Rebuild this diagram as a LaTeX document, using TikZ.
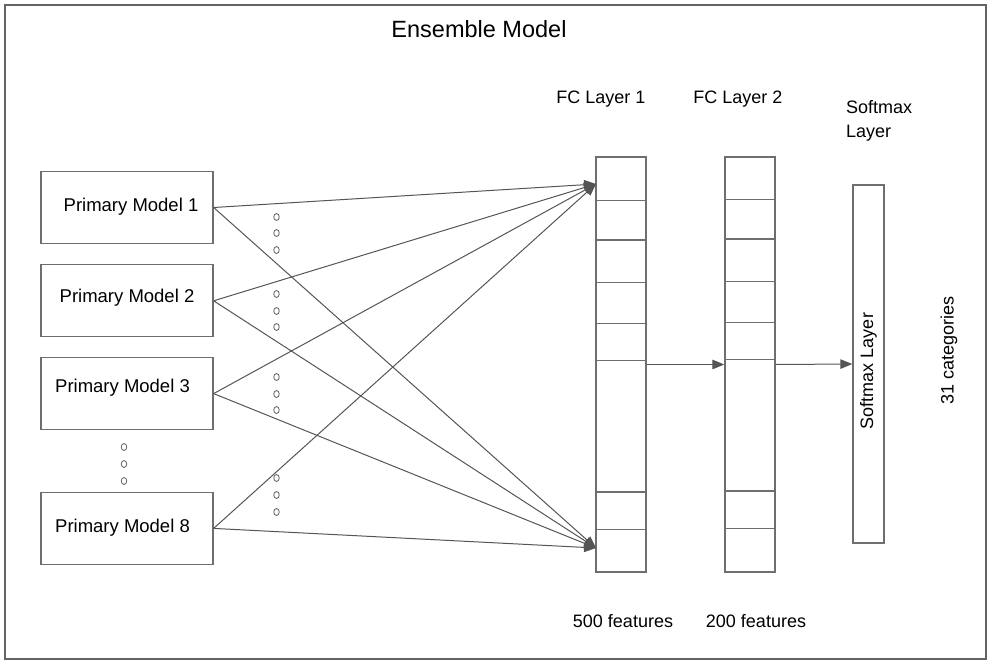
\documentclass[tikz,border=0pt]{standalone}
\usepackage{fontspec}
\setmainfont{Liberation Sans}
\usepackage{tikz}
\usetikzlibrary{positioning,arrows.meta,shapes.geometric}
\definecolor{framegray}{RGB}{100,100,100}
\definecolor{boxgray}{RGB}{110,110,110}
\definecolor{linegray}{RGB}{85,85,85}

\begin{document}
\begin{tikzpicture}[
        x=1pt, y=-1pt,
        node distance=20pt and 0pt,
        primary/.style={rectangle, draw=boxgray, line width=1.3pt, minimum width=172pt,
                        minimum height=72pt, inner sep=0pt, font=\fontsize{18.5}{22}\selectfont},
        layer/.style={rectangle, draw=boxgray, line width=1.3pt, minimum width=50pt,
                      minimum height=415pt, inner sep=0pt},
        caption/.style={font=\fontsize{18}{24}\selectfont, inner sep=0pt},
        dot/.style={ellipse, draw=boxgray, line width=0.9pt, minimum width=5.5pt, minimum height=7pt, inner sep=0pt},
        arrow/.style={-{Triangle[length=12pt,width=9.5pt]}, line width=1pt, linegray}
    ]
        \useasboundingbox (0,0) rectangle (991,664);
        % 外框和标题
        \draw[framegray, line width=1.4pt] (5,5) rectangle (986,659);
        \node[font=\fontsize{23.5}{28}\selectfont, inner sep=0pt] (title) at (479,29) {Ensemble Model};

        % 初级模型
        \node[primary] (pm1) at (127,207.5) {\raisebox{5pt}{\hspace{8pt}Primary Model 1}};
        \node[primary, below=of pm1] (pm2) {\raisebox{11pt}{Primary Model 2}};
        \node[primary, below=19.5pt of pm2] (pm3) {\raisebox{16pt}{Primary Model 3\hspace{9pt}}};
        \node[primary, below=61.5pt of pm3] (pm8) {\raisebox{6pt}{Primary Model 8\hspace{9pt}}};

        % 省略号
        \foreach \y in {447,464,481} \node[dot] at (124,\y) {};
        \foreach \y in {217,233,250,294,311,327,377,394,410,478,495,512}
            \node[dot] at (276.5,\y) {};

        % 全连接层
        \node[layer] (fcone) at (621,364.5) {};
        \node[layer] (fctwo) at (750,364.5) {};
        \foreach \y in {200.7,240,282.3,323.7,360.7,492,529.7}
            \draw[boxgray, line width=1.3pt] (fcone.west |- 0,\y) -- (fcone.east |- 0,\y);
        \foreach \y in {199.3,239,281.3,322.3,359.7,491,528.7}
            \draw[boxgray, line width=1.3pt] (fctwo.west |- 0,\y) -- (fctwo.east |- 0,\y);
        \node[layer, minimum width=31pt, minimum height=358pt] (softmax) at (868.5,364) {};
        \node[caption, rotate=90] (smtext) at ([yshift=-7pt]softmax.center) {Softmax Layer};

        % 标签
        \node[caption] (fconelabel) at (601,99) {FC Layer 1};
        \node[caption] (fctwolabel) at (738,99) {FC Layer 2};
        \node[caption, align=left, anchor=west] (smlabel) at (846,121) {Softmax\\Layer};
        \node[caption] (fconefeat) at (623,621) {500 features};
        \node[caption] (fctwofeat) at (756,621) {200 features};
        \node[caption, rotate=90] (cats) at (949,350) {31 categories};

        % 箭头连接
        \coordinate (intop) at (596,184);
        \coordinate (inbot) at (596,548);
        \foreach \m in {pm1,pm2,pm3,pm8} {
            \draw[arrow] (\m.east) -- (intop);
            \draw[arrow] (\m.east) -- (inbot);
        }
        \draw[arrow] (fcone.east) -- (fctwo.west);
        \draw[arrow] (fctwo.east) -- (softmax.west);
    \end{tikzpicture}
\end{document}
